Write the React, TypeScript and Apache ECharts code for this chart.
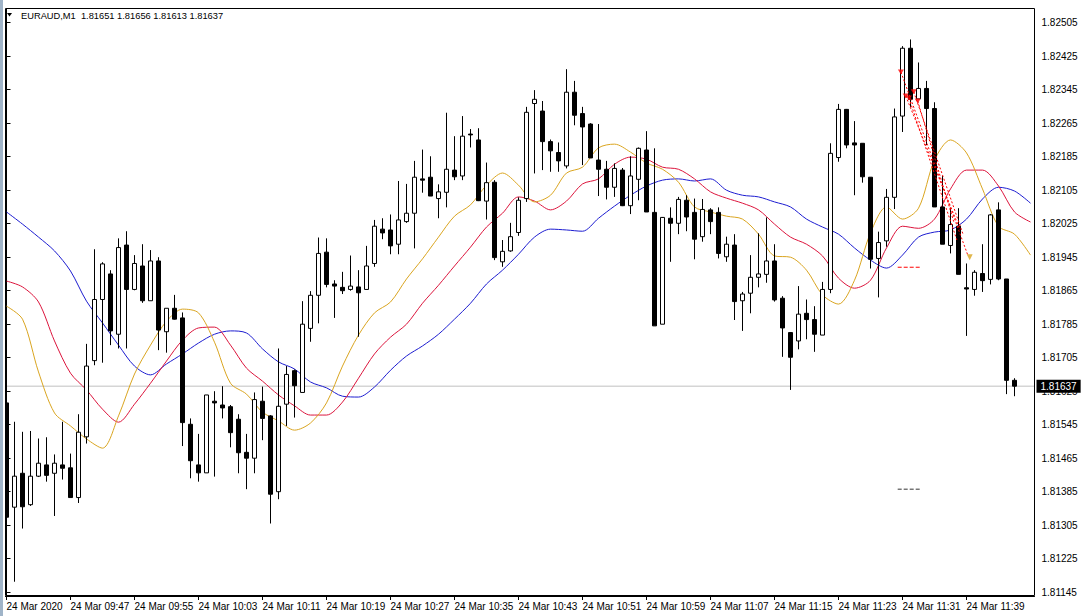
import React, { useEffect, useRef } from "react";
import * as echarts from "echarts";

const FONT = "Liberation Sans";

const opens = [
  1.81597, 1.81348, 1.81429, 1.81354, 1.81422, 1.81449, 1.81429, 1.81449, 1.81442, 1.81371,
  1.81516, 1.81698, 1.81844, 1.81905, 1.81761, 1.81974, 1.81868, 1.81924, 1.81841, 1.81936,
  1.81767, 1.81823, 1.81800, 1.81546, 1.81449, 1.81430, 1.81601, 1.81592, 1.81588, 1.81558,
  1.81479, 1.81465, 1.81601, 1.81566, 1.81385, 1.81594, 1.81674, 1.81622, 1.81775, 1.81854,
  1.81957, 1.81881, 1.81873, 1.81868, 1.81874, 1.81868, 1.81930, 1.82012, 1.82010, 1.81976,
  1.82030, 1.82050, 1.82132, 1.82136, 1.82085, 1.82100, 1.82153, 1.82139, 1.82239, 1.82225,
  1.82079, 1.82124, 1.81934, 1.81960, 1.82004, 1.82085, 1.82312, 1.82294, 1.82221, 1.82195,
  1.82163, 1.82339, 1.82288, 1.82263, 1.82177, 1.82155, 1.82112, 1.82153, 1.82068, 1.82131,
  1.82201, 1.82052, 1.81785, 1.82038, 1.82026, 1.82081, 1.82052, 1.81994, 1.82058, 1.82052,
  1.81946, 1.81974, 1.81841, 1.81859, 1.81897, 1.81904, 1.81936, 1.81847, 1.81765, 1.81745,
  1.81811, 1.81796, 1.81759, 1.81868, 1.82183, 1.82298, 1.82218, 1.82217, 1.82136, 1.81942,
  1.81984, 1.82088, 1.82282, 1.82444, 1.82323, 1.82348, 1.82300, 1.82065, 1.81973, 1.82019,
  1.81872, 1.81868, 1.81906, 1.81892, 1.82058, 1.81893, 1.81651,
];
const closes = [
  1.81324, 1.81422, 1.81349, 1.81422, 1.81453, 1.81424, 1.81453, 1.81441, 1.81371, 1.81527,
  1.81685, 1.81844, 1.81929, 1.81769, 1.81968, 1.81868, 1.81930, 1.81841, 1.81936, 1.81771,
  1.81823, 1.81797, 1.81550, 1.81459, 1.81430, 1.81616, 1.81597, 1.81585, 1.81526, 1.81478,
  1.81465, 1.81605, 1.81560, 1.81379, 1.81589, 1.81665, 1.81638, 1.81785, 1.81854, 1.81954,
  1.81880, 1.81876, 1.81865, 1.81876, 1.81860, 1.81924, 1.82019, 1.82003, 1.81972, 1.82034,
  1.82050, 1.82136, 1.82129, 1.82091, 1.82101, 1.82155, 1.82137, 1.82234, 1.82237, 1.82080,
  1.82123, 1.81944, 1.81959, 1.81994, 1.82081, 1.82291, 1.82322, 1.82221, 1.82199, 1.82175,
  1.82339, 1.82284, 1.82256, 1.82182, 1.82155, 1.82112, 1.82157, 1.82068, 1.82139, 1.82205,
  1.82053, 1.81781, 1.82040, 1.82026, 1.82083, 1.82041, 1.81988, 1.82059, 1.82030, 1.81954,
  1.81976, 1.81839, 1.81857, 1.81897, 1.81905, 1.81936, 1.81843, 1.81776, 1.81706, 1.81809,
  1.81796, 1.81761, 1.81868, 1.82193, 1.82298, 1.82213, 1.82213, 1.82137, 1.81940, 1.81980,
  1.82088, 1.82280, 1.82444, 1.82322, 1.82348, 1.82300, 1.82065, 1.81976, 1.82023, 1.81904,
  1.81869, 1.81909, 1.81889, 1.82046, 1.81893, 1.81651, 1.81637,
];
const lows = [
  1.81317, 1.81170, 1.81297, 1.81351, 1.81420, 1.81409, 1.81327, 1.81414, 1.81371, 1.81358,
  1.81500, 1.81687, 1.81693, 1.81735, 1.81727, 1.81727, 1.81866, 1.81836, 1.81841, 1.81723,
  1.81717, 1.81796, 1.81494, 1.81417, 1.81409, 1.81430, 1.81421, 1.81560, 1.81491, 1.81429,
  1.81391, 1.81429, 1.81508, 1.81309, 1.81367, 1.81542, 1.81562, 1.81622, 1.81743, 1.81787,
  1.81873, 1.81800, 1.81857, 1.81865, 1.81755, 1.81868, 1.81922, 1.81988, 1.81952, 1.81952,
  1.82027, 1.81966, 1.82099, 1.82091, 1.82038, 1.82064, 1.82129, 1.82129, 1.82207, 1.82079,
  1.82035, 1.81938, 1.81922, 1.81958, 1.81996, 1.82077, 1.82145, 1.82153, 1.82149, 1.82149,
  1.82157, 1.82260, 1.82165, 1.82182, 1.82091, 1.82083, 1.82089, 1.82067, 1.82048, 1.82081,
  1.82053, 1.81781, 1.81785, 1.81934, 1.82000, 1.82007, 1.81940, 1.81982, 1.82000, 1.81942,
  1.81934, 1.81795, 1.81769, 1.81811, 1.81873, 1.81884, 1.81839, 1.81707, 1.81628, 1.81725,
  1.81749, 1.81719, 1.81759, 1.81859, 1.82173, 1.82205, 1.82093, 1.82123, 1.81918, 1.81849,
  1.81970, 1.82060, 1.82244, 1.82304, 1.82323, 1.82213, 1.82065, 1.81976, 1.81954, 1.81904,
  1.81757, 1.81853, 1.81862, 1.81880, 1.81890, 1.81618, 1.81613,
];
const highs = [
  1.81647, 1.81552, 1.81528, 1.81530, 1.81512, 1.81515, 1.81474, 1.81552, 1.81476, 1.81570,
  1.81738, 1.81964, 1.81933, 1.81914, 1.81990, 1.82007, 1.81950, 1.81976, 1.81962, 1.81945,
  1.81823, 1.81855, 1.81813, 1.81560, 1.81523, 1.81616, 1.81625, 1.81637, 1.81592, 1.81570,
  1.81523, 1.81622, 1.81636, 1.81568, 1.81727, 1.81685, 1.81677, 1.81840, 1.81864, 1.81992,
  1.81990, 1.81890, 1.81910, 1.81949, 1.81914, 1.81972, 1.82034, 1.82038, 1.82047, 1.82127,
  1.82120, 1.82175, 1.82202, 1.82186, 1.82119, 1.82290, 1.82234, 1.82282, 1.82251, 1.82253,
  1.82171, 1.82129, 1.81986, 1.82027, 1.82088, 1.82304, 1.82344, 1.82318, 1.82226, 1.82219,
  1.82394, 1.82366, 1.82304, 1.82265, 1.82263, 1.82175, 1.82169, 1.82158, 1.82186, 1.82207,
  1.82246, 1.82205, 1.82041, 1.82064, 1.82089, 1.82093, 1.82085, 1.82084, 1.82062, 1.82064,
  1.81994, 1.82000, 1.81862, 1.81950, 1.82002, 1.82040, 1.81976, 1.81852, 1.81766, 1.81876,
  1.81844, 1.81828, 1.81886, 1.82217, 1.82311, 1.82299, 1.82270, 1.82217, 1.82136, 1.82006,
  1.82108, 1.82300, 1.82449, 1.82465, 1.82410, 1.82366, 1.82315, 1.82139, 1.82062, 1.82062,
  1.81930, 1.81914, 1.81976, 1.82048, 1.82076, 1.81893, 1.81656,
];

// Alligator lines, read every 2nd bar (bar index = 2 * position)
const jaw = [
  1.82053, 1.82024, 1.81993, 1.81960, 1.81912, 1.81840, 1.81788, 1.81735, 1.81685, 1.81664,
  1.81690, 1.81714, 1.81740, 1.81761, 1.81769, 1.81764, 1.81726, 1.81695, 1.81678, 1.81647,
  1.81633, 1.81613, 1.81611, 1.81635, 1.81675, 1.81709, 1.81733, 1.81761, 1.81797, 1.81835,
  1.81881, 1.81914, 1.81952, 1.81993, 1.82012, 1.82010, 1.82007, 1.82038, 1.82067, 1.82093,
  1.82115, 1.82129, 1.82132, 1.82127, 1.82132, 1.82105, 1.82093, 1.82089, 1.82077, 1.82065,
  1.82036, 1.82017, 1.82000, 1.81967, 1.81938, 1.81919, 1.81950, 1.81993, 1.82005, 1.82010,
  1.82036, 1.82084, 1.82112, 1.82103, 1.82074,
];
const teeth = [
  1.81888, 1.81874, 1.81838, 1.81745, 1.81668, 1.81628, 1.81582, 1.81551, 1.81594, 1.81644,
  1.81697, 1.81747, 1.81776, 1.81778, 1.81735, 1.81680, 1.81649, 1.81616, 1.81590, 1.81568,
  1.81568, 1.81599, 1.81656, 1.81714, 1.81754, 1.81785, 1.81835, 1.81878, 1.81924, 1.81969,
  1.82017, 1.82050, 1.82089, 1.82079, 1.82058, 1.82079, 1.82120, 1.82132, 1.82167, 1.82184,
  1.82179, 1.82160, 1.82155, 1.82132, 1.82101, 1.82086, 1.82074, 1.82058, 1.82024, 1.81993,
  1.81976, 1.81948, 1.81895, 1.81871, 1.81890, 1.81967, 1.82019, 1.82014, 1.82036, 1.82108,
  1.82153, 1.82153, 1.82115, 1.82053, 1.82029,
];
const lips = [
  1.81828, 1.81797, 1.81671, 1.81573, 1.81542, 1.81511, 1.81489, 1.81566, 1.81666, 1.81735,
  1.81792, 1.81821, 1.81812, 1.81742, 1.81644, 1.81618, 1.81575, 1.81554, 1.81532, 1.81549,
  1.81597, 1.81685, 1.81759, 1.81812, 1.81838, 1.81893, 1.81941, 1.81993, 1.82043, 1.82070,
  1.82117, 1.82146, 1.82117, 1.82077, 1.82093, 1.82146, 1.82160, 1.82206, 1.82215, 1.82196,
  1.82170, 1.82155, 1.82124, 1.82065, 1.82053, 1.82043, 1.82036, 1.82000, 1.81948, 1.81945,
  1.81914, 1.81855, 1.81833, 1.81890, 1.82003, 1.82065, 1.82036, 1.82062, 1.82177, 1.82225,
  1.82194, 1.82108, 1.82019, 1.82000, 1.81950,
];

// trade history lines: [open bar, open price, close bar, close price]
const trades = [
  [111.8, 1.82387, 120.2, 1.81948],
  [112.4, 1.82330, 119.2, 1.82010],
  [112.8, 1.82325, 118.8, 1.81986],
  [113.4, 1.82340, 119.6, 1.81998],
  [113.9, 1.82318, 118.4, 1.82030],
];
const closeMarker = [[120.4, 1.81945]];
const levelRed = [[111.4, 1.81921], [114.4, 1.81921]];
const levelDark = [[111.4, 1.81391], [114.4, 1.81391]];

const yTicks = [
  1.81145, 1.81225, 1.81305, 1.81385, 1.81465, 1.81545, 1.81625, 1.81705, 1.81785,
  1.81865, 1.81945, 1.82025, 1.82105, 1.82185, 1.82265, 1.82345, 1.82425, 1.82505,
];
const xTickLabels = [
  "24 Mar 2020", "24 Mar 09:47", "24 Mar 09:55", "24 Mar 10:03", "24 Mar 10:11",
  "24 Mar 10:19", "24 Mar 10:27", "24 Mar 10:35", "24 Mar 10:43", "24 Mar 10:51",
  "24 Mar 10:59", "24 Mar 11:07", "24 Mar 11:15", "24 Mar 11:23", "24 Mar 11:31", "24 Mar 11:39",
];
const BID = 1.81637;
const TITLE = "EURAUD,M1  1.81651 1.81656 1.81613 1.81637";
const N_SLOTS = 129;
const Y_MIN = 1.811359;
const Y_MAX = 1.825401;

export default function App() {
  const ref = useRef<HTMLDivElement>(null);
  useEffect(() => {
    if (!ref.current) return;
    const chart = echarts.init(ref.current, undefined, { renderer: "svg" });
    const cats: string[] = [];
    for (let i = 0; i < N_SLOTS; i++) cats.push(String(i));
    const candles = opens.map((o, i) => [o, closes[i], lows[i], highs[i]]);
    const every2 = (arr: number[]) => arr.map((v, i) => [i * 2, v]);
    const showTick = (i: number) => i % 8 === 0 && i <= 120;

    const tradeSeries = trades.map((t) => ({
      type: "line",
      xAxisIndex: 1,
      data: [[t[0], t[1]], [t[2], t[3]]],
      symbol: ["triangle", "none"],
      showSymbol: true,
      symbolSize: 0,
      lineStyle: { color: "#ff0000", width: 1, type: [2, 2] },
      silent: true,
      z: 5,
    }));

    chart.setOption({
      animation: false,
      backgroundColor: "#ffffff",
      grid: { left: 2.5, top: 8, width: N_SLOTS * 8, bottom: 20, show: false },
      xAxis: [
        {
          type: "category",
          data: cats,
          boundaryGap: true,
          axisLine: { show: true, lineStyle: { color: "#000" } },
          axisTick: { show: true, interval: showTick, alignWithLabel: true, length: 4, lineStyle: { color: "#000" } },
          axisLabel: {
            interval: showTick,
            formatter: (_v: string, i: number) => xTickLabels[i / 8] ?? "",
            align: "left",
            color: "#000",
            fontFamily: FONT,
            fontSize: 10,
            margin: 5,
          },
          splitLine: { show: false },
        },
        { type: "value", min: -0.5, max: N_SLOTS - 0.5, show: false },
      ],
      yAxis: {
        type: "value",
        position: "right",
        min: Y_MIN,
        max: Y_MAX,
        axisLine: { show: true, lineStyle: { color: "#000" } },
        axisTick: { show: true, length: 4, customValues: yTicks, lineStyle: { color: "#000" } },
        axisLabel: {
          customValues: yTicks,
          formatter: (v: number) => v.toFixed(5),
          color: "#000",
          fontFamily: FONT,
          fontSize: 10,
          margin: 7,
        },
        splitLine: { show: false },
      },
      series: [
        {
          type: "line",
          xAxisIndex: 1,
          data: [[-0.5, BID], [N_SLOTS - 0.5, BID]],
          showSymbol: false,
          lineStyle: { color: "#c0c0c0", width: 1 },
          silent: true,
          z: 1,
          endLabel: {
            show: true,
            formatter: BID.toFixed(5),
            backgroundColor: "#000",
            color: "#fff",
            fontFamily: FONT,
            fontSize: 10,
            padding: [2, 4, 1, 4],
            distance: 2,
          },
        },
        {
          type: "candlestick",
          data: candles,
          barWidth: 5,
          itemStyle: {
            color: "#ffffff",
            color0: "#000000",
            borderColor: "#000000",
            borderColor0: "#000000",
            borderColorDoji: "#000000",
            borderWidth: 1,
          },
          z: 3,
        },
        {
          type: "line", xAxisIndex: 1, data: every2(jaw), showSymbol: false, smooth: 0.3,
          lineStyle: { color: "#1c1cd0", width: 1 }, silent: true, z: 2,
        },
        {
          type: "line", xAxisIndex: 1, data: every2(teeth), showSymbol: false, smooth: 0.3,
          lineStyle: { color: "#dc143c", width: 1 }, silent: true, z: 2,
        },
        {
          type: "line", xAxisIndex: 1, data: every2(lips), showSymbol: false, smooth: 0.3,
          lineStyle: { color: "#daa520", width: 1 }, silent: true, z: 2,
        },
        ...tradeSeries,
        {
          type: "scatter", xAxisIndex: 1, silent: true, z: 6,
          data: trades.map((t) => [t[0], t[1]]),
          symbol: "triangle", symbolSize: [6, 5], symbolRotate: 180,
          itemStyle: { color: "#ff0000" },
        },
        {
          type: "scatter", xAxisIndex: 1, silent: true, z: 6,
          data: closeMarker,
          symbol: "triangle", symbolSize: [6, 6], symbolRotate: 180,
          itemStyle: { color: "#daa520" },
        },
        {
          type: "line", xAxisIndex: 1, data: levelRed, showSymbol: false,
          lineStyle: { color: "#ff0000", width: 1, type: [4, 2] }, silent: true, z: 4,
        },
        {
          type: "line", xAxisIndex: 1, data: levelDark, showSymbol: false,
          lineStyle: { color: "#333333", width: 1, type: [4, 2] }, silent: true, z: 4,
        },
      ],
      graphic: [
        { type: "rect", z: 100, shape: { x: 0, y: 0, width: 5, height: 616 }, style: { fill: "#fff" } },
        { type: "rect", z: 100, shape: { x: 0, y: 0, width: 1081, height: 8 }, style: { fill: "#fff" } },
        { type: "rect", z: 101, shape: { x: 0, y: 0, width: 3, height: 616 }, style: { fill: "#a0b4c8" } },
        {
          type: "rect", z: 101,
          shape: { x: 5.5, y: 8.5, width: 1029, height: 587 },
          style: { fill: "none", stroke: "#000", lineWidth: 1 },
        },
        { type: "polygon", z: 102, shape: { points: [[7, 13], [12, 13], [9.5, 16.5]] }, style: { fill: "#000" } },
        {
          type: "text", z: 102, x: 21, y: 16,
          style: { text: TITLE, fill: "#000", font: `9.3px "${FONT}"`, textVerticalAlign: "middle" },
        },
      ],
    });
    return () => chart.dispose();
  }, []);
  return (
    <div
      ref={ref}
      style={{ position: "fixed", left: 0, top: 0, width: 1081, height: 616, background: "#fff" }}
    />
  );
}
